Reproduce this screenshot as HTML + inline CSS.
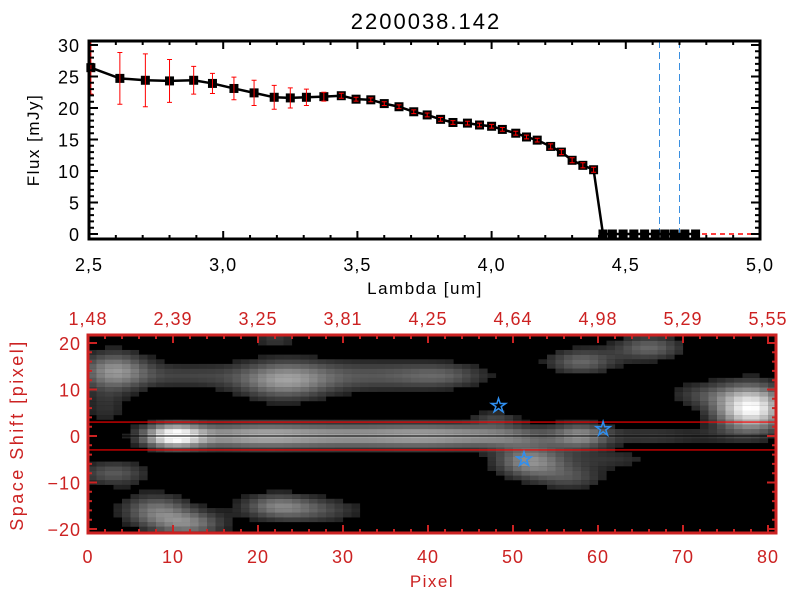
<!DOCTYPE html>
<html><head><meta charset="utf-8"><style>
body{margin:0;background:#fff}
svg{display:block;font-family:"Liberation Sans",sans-serif}
</style></head><body>
<svg id="c" width="800" height="600" xmlns="http://www.w3.org/2000/svg">
<defs><clipPath id="imgclip"><rect x="88" y="335" width="688" height="198"/></clipPath></defs>
<text x="426" y="29" font-size="22" letter-spacing="2" text-anchor="middle" fill="#000">2200038.142</text>
<g id="top"></g>
<g id="bot"></g>
</svg>
<script>
const lambdas=[2.507,2.615,2.71,2.80,2.89,2.96,3.04,3.115,3.19,3.25,3.31,3.375,3.44,3.495,3.55,3.60,3.655,3.71,3.76,3.81,3.856,3.91,3.955,4.0,4.04,4.09,4.13,4.17,4.22,4.26,4.30,4.34,4.38,4.415,4.45,4.49,4.53,4.57,4.61,4.645,4.68,4.72,4.76];
const flux=[26.4,24.7,24.4,24.3,24.4,23.9,23.1,22.4,21.7,21.6,21.7,21.8,21.95,21.4,21.3,20.7,20.2,19.4,18.9,18.2,17.7,17.6,17.3,17.1,16.6,16.0,15.4,14.9,13.9,13.0,11.7,10.9,10.2,0,0,0,0,0,0,0,0,0,0];
const fluxErr=[4.2,4.1,4.2,3.4,2.2,1.6,1.8,2.0,1.9,1.6,1.3,0.7,0.4,0.3,0.3,0.3,0.3,0.3,0.3,0.3,0.3,0.3,0.3,0.3,0.3,0.3,0.3,0.3,0.4,0.4,0.4,0.4,0.4,0,0,0,0,0,0,0,0,0,0];
const vLines=[4.624,4.70];
const xTicks=["2.5","3.0","3.5","4.0","4.5","5.0"];
const yTicks=["0","5","10","15","20","25","30"];
const pixTicks=["0","10","20","30","40","50","60","70","80"];
const lamTop=["1.48","2.39","3.25","3.81","4.25","4.64","4.98","5.29","5.55"];
const shiftTicks=["-20","-10","0","10","20"];
// blobs: [pixel x, shift y, sigma x, sigma y, amplitude]
const blobs=[[10,0,2.5,1.8,0.9],[18,0,6,2,0.5],[30,0,8,2,0.5],[42,0,6,2,0.45],[50,0,4,1.6,0.28],[58,0,2.5,2,0.5],[66,0,4,1.5,0.22],[74,0,4,1.2,0.1],
[3,14,3,3,0.55],[12,13,5,2,0.25],[23,12,4,3,0.55],[33,13,6,2.5,0.3],[42,13,4,2,0.3],[58,16,3,2,0.4],[66,19,3,2,0.4],[72,9,3,2,0.22],[78,6,3,3.5,1.0],
[48,4,2,1.2,0.22],[52,-5.5,3,2.5,0.55],[57,-9,3,2,0.28],[62,-5,4,1.5,0.18],
[3,-8,3,2,0.35],[8,-16,3,2.5,0.45],[12,-19,3,2,0.45],[22,-15,3,2,0.4],[27,-16,4,2,0.28],[22,21,2,1.5,0.22],[2,6,2,3,0.18],[75,-10,3,1.5,0.13]];
const stars=[[48.3,6.5],[51.3,-5],[60.6,1.5]];
const NS="http://www.w3.org/2000/svg";
function mk(p,t,a){const e=document.createElementNS(NS,t);for(const k in a)e.setAttribute(k,a[k]);p.appendChild(e);return e;}
const T=document.getElementById('top');
const L=89,R=760,TT=41,B=239;
const xs=v=>L+(v-2.5)/2.5*(R-L);
const ys=v=>234-(v)*6.3;
for(const v of vLines){const l=mk(T,'line',{x1:Math.round(xs(v))+0.5,x2:Math.round(xs(v))+0.5,y1:TT,y2:B,stroke:'#3a8fe0','stroke-width':1,'stroke-dasharray':'7,4','shape-rendering':'crispEdges'});

}
const zl=mk(T,'line',{x1:xs(4.415),x2:R,y1:ys(0),y2:ys(0),stroke:'#ff0000','stroke-width':1.5,'stroke-dasharray':'5,4'});


let pts=lambdas.map((v,i)=>xs(v)+','+ys(flux[i])).join(' ');
const pl=mk(T,'polyline',{points:pts,fill:'none',stroke:'#000','stroke-width':2.5});


lambdas.forEach((v,i)=>{const x=xs(v),y=ys(flux[i]);
const m=mk(T,'rect',{x:x-4.5,y:y-4.5,width:9,height:9,fill:'#000'});


if(fluxErr[i]>0){const e=mk(T,'path',{d:`M${x},${Math.max(TT,ys(flux[i]+fluxErr[i]))}V${ys(flux[i]-fluxErr[i])}M${x-2.5},${ys(flux[i]+fluxErr[i])}h5M${x-2.5},${ys(flux[i]-fluxErr[i])}h5`,stroke:'#ff0000','stroke-width':1,fill:'none'});

}});
let tk='';
for(let v=2.5;v<=5.001;v+=0.1){const x=xs(v);const maj=Math.abs(v*2-Math.round(v*2))<0.01;const h=maj?8:4;tk+=`M${x},${B}v-${h}M${x},${TT}v${h}`;}
for(let v=0;v<=30;v++){const y=ys(v);const h=v%5==0?9:5;tk+=`M${L},${y}h${h}M${R},${y}h-${h}`;}
mk(T,'path',{d:tk,stroke:'#000','stroke-width':2,fill:'none'});
const fr=mk(T,'rect',{x:L,y:TT,width:R-L,height:B-TT,fill:'none',stroke:'#000','stroke-width':3});


xTicks.forEach(s=>{const t=mk(T,'text',{x:xs(+s),y:271,'font-size':18,'letter-spacing':1,'text-anchor':'middle'});t.textContent=s.replace('.',',');

});
yTicks.forEach(s=>{const t=mk(T,'text',{x:80,y:ys(+s)+7,'font-size':18,'letter-spacing':1,'text-anchor':'end'});t.textContent=s;

});
let t=mk(T,'text',{x:425,y:294,'font-size':17,'letter-spacing':1.5,'text-anchor':'middle'});t.textContent='Lambda [um]';


t=mk(T,'text',{x:0,y:0,'font-size':17,'letter-spacing':1.5,'text-anchor':'middle',transform:'translate(39,140) rotate(-90)'});t.textContent='Flux [mJy]';


const G=document.getElementById('bot');
const BL=88,BR=776,BT=335,BB=533;const RED='#cc2222';
const px=v=>BL+v*8.5;
const py=v=>436-v*4.65;
mk(G,'rect',{x:BL,y:BT,width:BR-BL,height:BB-BT,fill:'#000'});
const cells=mk(G,'g',{'clip-path':'url(#imgclip)'});


for(let i=0;i<81;i++){for(let j=-21;j<=21;j++){let v=0;for(const b of blobs){const dx=(i+0.5-b[0])/b[2],dy=(j-b[1])/b[3];v+=b[4]*Math.exp(-0.5*(dx*dx+dy*dy));}
if(v<0.13)continue;const g=Math.round(255*Math.min(1,v));
const c=mk(cells,'rect',{x:px(i),y:py(j)-2.33,width:8.6,height:4.75,fill:`rgb(${g},${g},${g})`});

}}
mk(G,'line',{x1:BL,x2:BR,y1:py(0),y2:py(0),stroke:'#000','stroke-width':1});
[3,-3].forEach(v=>{const l=mk(G,'line',{x1:BL,x2:BR,y1:py(v),y2:py(v),stroke:'#ff0000','stroke-width':1.2});

});
stars.forEach(s=>{const cx=px(s[0]),cy=py(s[1]);let d='';for(let k=0;k<10;k++){const r=k%2?2.8:7.5;const a=-Math.PI/2+k*Math.PI/5;d+=(k?'L':'M')+(cx+r*Math.cos(a)).toFixed(1)+','+(cy+r*Math.sin(a)).toFixed(1);}
const st=mk(G,'path',{d:d+'Z',fill:'none',stroke:'#2f8ff0','stroke-width':1.5});

});
let bt='';
for(let v=0;v<=80;v+=2){const h=v%10==0?8:4;bt+=`M${px(v)},${BB}v-${h}M${px(v)},${BT}v${h}`;}
for(let v=-20;v<=20;v+=2){const h=v%10==0?9:4;bt+=`M${BL},${py(v)}h${h}M${BR},${py(v)}h-${h}`;}
mk(G,'path',{d:bt,stroke:RED,'stroke-width':2,fill:'none'});
const bf=mk(G,'rect',{x:BL,y:BT,width:BR-BL,height:BB-BT,fill:'none',stroke:RED,'stroke-width':3});


pixTicks.forEach(s=>{const e=mk(G,'text',{x:px(+s),y:563,'font-size':18,'letter-spacing':1,'text-anchor':'middle',fill:RED});e.textContent=s;

});
lamTop.forEach((s,i)=>{const e=mk(G,'text',{x:px(+pixTicks[i]),y:325,'font-size':18,'letter-spacing':1,'text-anchor':'middle',fill:RED});e.textContent=s.replace('.',',');

});
shiftTicks.forEach(s=>{const e=mk(G,'text',{x:81,y:py(+s)+7,'font-size':18,'letter-spacing':1,'text-anchor':'end',fill:RED});e.textContent=s.replace('-','\u2212');

});
t=mk(G,'text',{x:432,y:587,'font-size':17,'letter-spacing':1.5,fill:RED,'text-anchor':'middle'});t.textContent='Pixel';


t=mk(G,'text',{x:0,y:0,'font-size':18,'letter-spacing':2.5,'text-anchor':'middle',fill:RED,transform:'translate(23,435) rotate(-90)'});t.textContent='Space Shift [pixel]';


</script>
</body></html>
